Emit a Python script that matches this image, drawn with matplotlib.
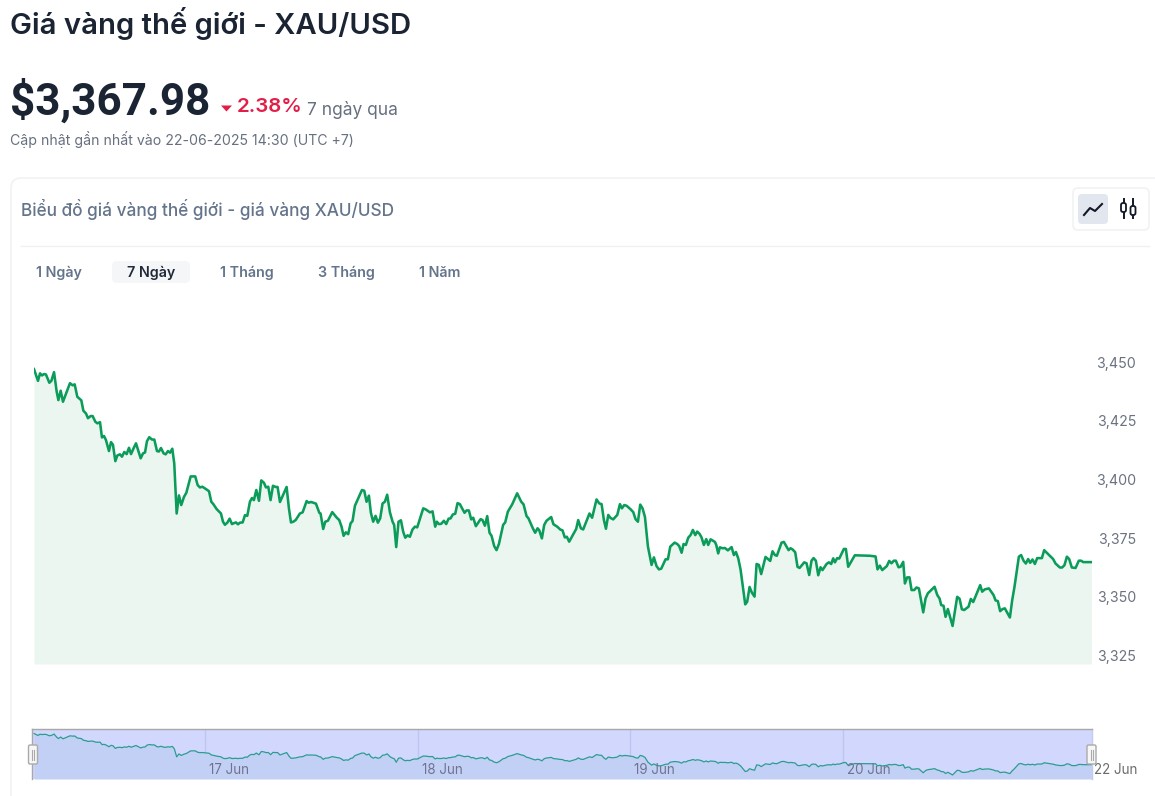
import matplotlib
matplotlib.use("Agg")
import matplotlib.pyplot as plt
from matplotlib.patches import FancyBboxPatch, Rectangle, Polygon

plt.rcParams['font.family'] = ['Inter', 'DejaVu Sans']

# hours elapsed since the first sample (16 Jun, trading time)
hours = [0.0,.19,.45,.68,.90,1.13,1.35,1.73,1.96,2.26,2.56,2.75,3.01,3.27,4.06,4.36,4.59,4.89,5.34,5.57,5.87,6.09,6.39,6.62,6.92,7.15,7.45,7.67,7.90,8.12,8.46,8.69,8.91,9.18,9.40,9.70,9.93,10.19,10.46,10.72,10.95,11.28,11.51,11.81,12.04,12.30,12.53,12.75,13.01,13.31,13.58,13.88,14.10,14.33,14.63,14.86,15.12,15.35,15.61,15.83,16.10,16.36,16.62,16.93,17.19,17.68,18.20,18.47,18.73,19.00,19.29,19.75,20.01,20.24,20.61,21.10,21.33,21.55,21.82,22.08,22.34,22.57,22.79,23.02,23.24,23.55,23.81,24.07,24.37,24.60,24.82,25.09,25.39,25.65,25.95,26.18,26.44,26.70,26.97,27.27,27.49,27.76,28.51,28.77,29.00,29.26,29.53,30.01,30.32,30.77,30.99,31.26,31.52,31.82,32.20,
32.34,32.64,32.87,33.17,33.66,34.15,34.45,34.71,34.94,35.20,35.46,35.73,35.95,36.22,37.01,37.27,37.53,37.80,38.02,38.28,38.55,38.81,39.07,39.34,39.60,39.86,40.17,40.47,40.65,40.88,41.14,41.41,41.67,41.90,42.16,42.42,42.72,42.99,43.25,43.93,44.23,44.68,44.98,45.28,45.47,45.69,45.96,46.26,46.52,46.79,47.01,47.27,47.54,47.80,48.06,48.59,48.82,49.08,49.34,49.57,49.87,50.40,50.62,50.89,51.15,51.41,51.64,51.94,52.20,52.47,52.95,53.18,53.48,53.97,54.53,54.99,55.25,55.59,55.81,56.30,56.56,56.83,57.02,57.32,57.58,57.84,58.37,58.63,59.05,59.39,59.65,59.91,60.14,60.40,61.19,61.42,61.72,61.98,62.69,62.99,63.49,63.79,
64.06,64.32,64.55,64.81,65.07,65.37,65.83,66.13,66.35,66.62,66.88,67.33,67.63,67.89,68.16,68.42,68.68,68.95,69.29,69.70,69.96,70.26,70.53,70.79,71.28,71.54,71.81,72.30,72.60,72.82,73.09,73.31,73.57,73.84,74.10,74.36,74.63,74.85,75.12,75.34,75.60,75.87,76.09,76.36,76.85,77.00,77.22,77.41,77.71,77.98,78.31,78.73,78.99,79.22,79.48,79.74,80.27,80.49,80.76,81.02,81.32,81.55,81.81,82.07,82.56,83.09,83.35,83.62,83.84,84.37,84.63,85.16,85.38,85.61,85.91,86.17,86.40,86.93,87.19,87.49,87.75,87.98,88.24,88.51,88.77,88.99,89.45,89.71,89.97,90.20,90.39,90.65,90.88,91.40,91.63,91.89,92.64,94.34,94.98,95.20,95.46,95.73,96.25,96.52,96.78,97.04,97.27,97.57,
97.80,98.10,98.29,98.55,98.81,99.04,99.34,99.60,99.87,100.36,100.62,100.88,101.64,101.94,102.20,102.39,102.65,102.88,103.14,103.67,104.19,104.46,104.72,104.98,105.47,105.73,106.00,106.79,107.01,107.31,107.77,108.03,108.29,108.52,108.78,109.04,109.31,109.57,110.14,110.40,110.66,111.15,111.41,111.68,111.94,112.20,112.43,112.69,112.96,113.22,113.75,114.01,114.27,115.02,115.29,115.78,116.04,116.30,116.57,116.83,117.13,117.55,117.92,118.18,118.41,119.35]

prices = [3447.0,3444.9,3442.0,3445.2,3444.3,3444.9,3444.7,3441.2,3442.0,3445.7,3437.4,3433.8,3437.8,3433.1,3441.0,3440.1,3440.5,3435.2,3433.7,3429.3,3428.1,3426.1,3427.0,3427.0,3424.6,3423.9,3424.4,3417.9,3418.5,3416.8,3412.1,3415.9,3414.8,3407.8,3410.2,3410.7,3409.7,3411.7,3410.8,3413.5,3410.8,3413.6,3415.4,3411.8,3409.0,3411.1,3411.5,3416.3,3418.0,3417.0,3417.0,3412.1,3411.9,3413.4,3411.1,3410.7,3412.1,3411.4,3413.1,3406.8,3385.5,3393.2,3389.1,3392.6,3394.3,3401.3,3401.3,3397.6,3396.6,3396.9,3396.2,3395.0,3390.5,3389.5,3387.4,3385.5,3382.0,3380.7,3381.6,3383.3,3381.0,3381.4,3381.7,3380.9,3381.6,3381.7,3384.8,3384.5,3390.5,3392.1,3391.2,3395.5,3390.9,3399.6,3398.6,3396.6,3396.9,3391.2,3397.3,3396.8,3396.8,3390.4,3396.8,3387.7,3381.7,3382.0,3382.7,3385.5,3386.0,3390.8,3390.1,3390.4,3390.1,3389.7,3385.8,
3385.5,3378.9,3382.0,3382.4,3386.1,3383.8,3382.7,3379.9,3376.0,3377.5,3376.7,3381.3,3382.3,3388.8,3395.5,3395.2,3390.5,3393.1,3385.8,3382.0,3384.5,3381.6,3383.4,3389.8,3390.5,3393.5,3386.0,3382.0,3380.6,3371.2,3382.0,3382.6,3377.7,3375.2,3376.2,3375.6,3378.7,3379.9,3379.6,3387.7,3387.2,3386.0,3386.4,3379.9,3382.0,3381.0,3381.1,3382.4,3381.0,3383.3,3383.4,3385.1,3385.4,3389.9,3389.5,3385.8,3386.8,3386.8,3383.0,3383.7,3380.1,3383.1,3382.7,3380.3,3384.4,3377.3,3376.0,3371.6,3369.9,3372.5,3380.7,3381.7,3386.3,3389.4,3394.1,3390.5,3389.4,3384.4,3383.4,3379.2,3377.3,3379.2,3378.4,3374.9,3380.6,3382.4,3384.0,3380.9,3379.9,3378.7,3378.3,3375.3,3375.6,3373.5,3378.9,3382.7,3379.2,3378.7,3385.5,3383.7,3391.5,3389.8,
3389.5,3382.7,3379.0,3384.9,3383.6,3383.0,3384.9,3389.5,3387.7,3389.1,3388.8,3387.3,3386.1,3383.1,3382.0,3389.3,3387.7,3384.1,3371.4,3363.6,3366.8,3363.1,3361.7,3362.0,3366.0,3366.0,3371.4,3373.1,3372.5,3371.6,3368.8,3372.5,3372.1,3375.2,3376.3,3378.5,3376.3,3377.8,3376.8,3375.3,3372.1,3374.6,3372.1,3374.5,3373.4,3372.1,3368.5,3371.1,3370.7,3370.8,3369.8,3371.2,3367.8,3369.1,3366.4,3361.7,3346.8,3347.9,3354.2,3351.8,3350.1,3364.0,3363.6,3359.7,3367.0,3365.3,3369.4,3367.8,3367.5,3373.1,3373.4,3369.9,3370.7,3370.2,3369.0,3362.8,3362.3,3364.7,3364.3,3359.3,3365.4,3366.5,3365.4,3359.2,3362.6,3361.4,3364.0,3364.7,3364.0,3366.4,3364.7,3366.5,3366.3,3370.4,3370.4,3362.8,3367.7,3367.5,3367.2,3361.7,3363.3,3361.4,3363.1,3365.3,3364.3,3365.4,3365.4,3362.6,
3362.8,3364.9,3355.7,3358.3,3358.3,3352.9,3352.9,3354.0,3353.6,3343.4,3349.3,3351.5,3354.3,3350.8,3349.3,3346.5,3346.2,3341.5,3344.8,3337.6,3350.0,3349.2,3344.7,3344.4,3345.8,3349.1,3347.8,3355.0,3352.2,3353.2,3353.6,3352.2,3350.8,3348.5,3348.2,3343.9,3344.8,3345.1,3341.2,3348.6,3354.3,3367.1,3367.8,3365.4,3364.2,3366.1,3364.5,3365.9,3364.0,3366.5,3366.5,3369.9,3368.9,3366.1,3364.2,3362.5,3362.5,3363.5,3367.1,3366.1,3362.5,3362.3,3365.4,3365.4,3364.8,3364.8]

y_ticks = [3325, 3350, 3375, 3400, 3425, 3450]
y_labels = ['3,325', '3,350', '3,375', '3,400', '3,425', '3,450']
date_hours = [19.3, 43.3, 67.3, 91.3, 119.35]
date_labels = ['17 Jun', '18 Jun', '19 Jun', '20 Jun', '22 Jun']
tab_labels = ['1 Ngày', '7 Ngày', '1 Tháng', '3 Tháng', '1 Năm']

W, H = 1155, 796
fig = plt.figure(figsize=(W / 100, H / 100), dpi=100, facecolor='white')

def rect(l, t, r, b):
    return [l / W, 1 - b / H, (r - l) / W, (b - t) / H]

# page chrome, in pixel coordinates
bg = fig.add_axes([0, 0, 1, 1], zorder=0)
bg.set_xlim(0, W); bg.set_ylim(H, 0); bg.axis('off')
px = 0.72
DARK, GREY = '#1a2433', '#66707f'

bg.text(10, 23, 'Giá vàng thế giới - XAU/USD', fontsize=29.3 * px, fontweight='semibold', color=DARK, va='center')
bg.text(10, 101, '$3,367.98', fontsize=44 * px, fontweight='bold', color=DARK, va='center',
        family=['Roboto', 'DejaVu Sans'])
bg.add_patch(Polygon([(221, 105.5), (232, 105.5), (226.5, 111.5)], closed=True, color='#e11d48', lw=0))
bg.text(237, 107, '2.38%', fontsize=20.5 * px, fontweight='semibold', color='#e11d48', va='center')
bg.text(307, 110, '7 ngày qua', fontsize=17.4 * px, color=GREY, va='center')
bg.text(10, 140, 'Cập nhật gần nhất vào 22-06-2025 14:30 (UTC +7)', fontsize=14.1 * px, color=GREY, va='center')

bg.add_patch(FancyBboxPatch((11, 178), 1300, 800, boxstyle='round,pad=0,rounding_size=10',
                            fc='white', ec='#eef0f3', lw=1))
bg.text(21, 209, 'Biểu đồ giá vàng thế giới - giá vàng XAU/USD', fontsize=17.2 * px,
        fontweight='medium', color='#64748b', va='center')
bg.plot([21, 1149], [245.5, 245.5], color='#eef0f3', lw=1)

# chart type switch
bg.add_patch(FancyBboxPatch((1073, 188), 76, 42, boxstyle='round,pad=0,rounding_size=5',
                            fc='white', ec='#eef0f3', lw=1))
bg.add_patch(FancyBboxPatch((1078, 194), 30, 30, boxstyle='round,pad=0,rounding_size=4',
                            fc='#e2e6ee', ec='none'))
bg.plot([1084, 1090, 1095, 1102], [215, 208, 211, 204], color='#111827', lw=1.5)
for cx, t, b, bt, bb in [(1123.5, 199, 218, 203, 212), (1133, 199, 218, 206, 215)]:
    bg.plot([cx, cx], [t, b], color='#111827', lw=1.4)
    bg.add_patch(FancyBboxPatch((cx - 2.5, bt), 5, bb - bt, boxstyle='round,pad=0,rounding_size=2',
                                fc='white', ec='#111827', lw=1.3, zorder=3))

# range tabs
bg.add_patch(FancyBboxPatch((112, 261), 78, 22, boxstyle='round,pad=0,rounding_size=5',
                            fc='#f5f6f7', ec='none'))
for x, lab in zip([36, 127, 220, 318, 419], tab_labels):
    active = lab == '7 Ngày'
    bg.text(x, 273, lab, fontsize=14.3 * px, fontweight='semibold',
            color='#1f2937' if active else '#64748b', va='center')

# main chart
ax = fig.add_axes(rect(34, 340, 1091.5, 664), zorder=1)
ax.patch.set_alpha(0)
ax.fill_between(hours, prices, 3321.4, color='#ecf6f1', lw=0)
ax.plot(hours, prices, color='#0b9c5a', lw=1.85, solid_joinstyle='round')
ax.set_xlim(0, 119.35)
ax.set_ylim(3321.4, 3459.4)
ax.set_xticks([])
ax.yaxis.tick_right()
ax.set_yticks(y_ticks, y_labels, fontsize=14.2 * px, color='#6b7280')
ax.tick_params(axis='y', length=0, pad=32)
for t in ax.get_yticklabels():
    t.set_ha('right')
for s in ax.spines.values():
    s.set_visible(False)

# range slider
sl = fig.add_axes(rect(32, 729, 1091.5, 779), zorder=1)
sl.set_facecolor('#d2d7fd')
sl.fill_between(hours, prices, 3327, color='#c3d0f5', lw=0)
sl.plot(hours, prices, color='#2a9d8f', lw=0.9)
sl.set_xlim(-0.23, 119.35)
sl.set_ylim(3327, 3459)
sl.set_yticks([])
sl.set_xticks(date_hours[:4])
sl.set_xticklabels([])
sl.tick_params(axis='x', length=0)
sl.grid(axis='x', color='#bcc6ee', lw=1)
sl.set_axisbelow(True)
for side, s in sl.spines.items():
    s.set_visible(side in ('top', 'left', 'right'))
    s.set_color('#a8a8a8')
    s.set_linewidth(1)
sl.spines['right'].set_color('#c3cbef')
for h, lab in zip(date_hours, date_labels):
    last = lab == '22 Jun'
    sl.annotate(lab, (h, 3327), xytext=(2.5 if last else 4, 9), textcoords='offset pixels',
                fontsize=13.4 * px, color='#6a6a6a' if last else '#6f7390', va='center', ha='left',
                annotation_clip=False)

# slider handles
over = fig.add_axes([0, 0, 1, 1], zorder=3)
over.set_xlim(0, W); over.set_ylim(H, 0); over.axis('off')
for x in (33, 1091.5):
    over.add_patch(FancyBboxPatch((x - 4.5, 745), 9, 19, boxstyle='round,pad=0,rounding_size=1.5',
                                  fc='#f7f7f7', ec='#aaaaaa', lw=1))
    over.plot([x - 1, x - 1], [750, 760], color='#aaaaaa', lw=0.8)
    over.plot([x + 1, x + 1], [750, 760], color='#aaaaaa', lw=0.8)

fig.savefig('out.png', dpi=100)
